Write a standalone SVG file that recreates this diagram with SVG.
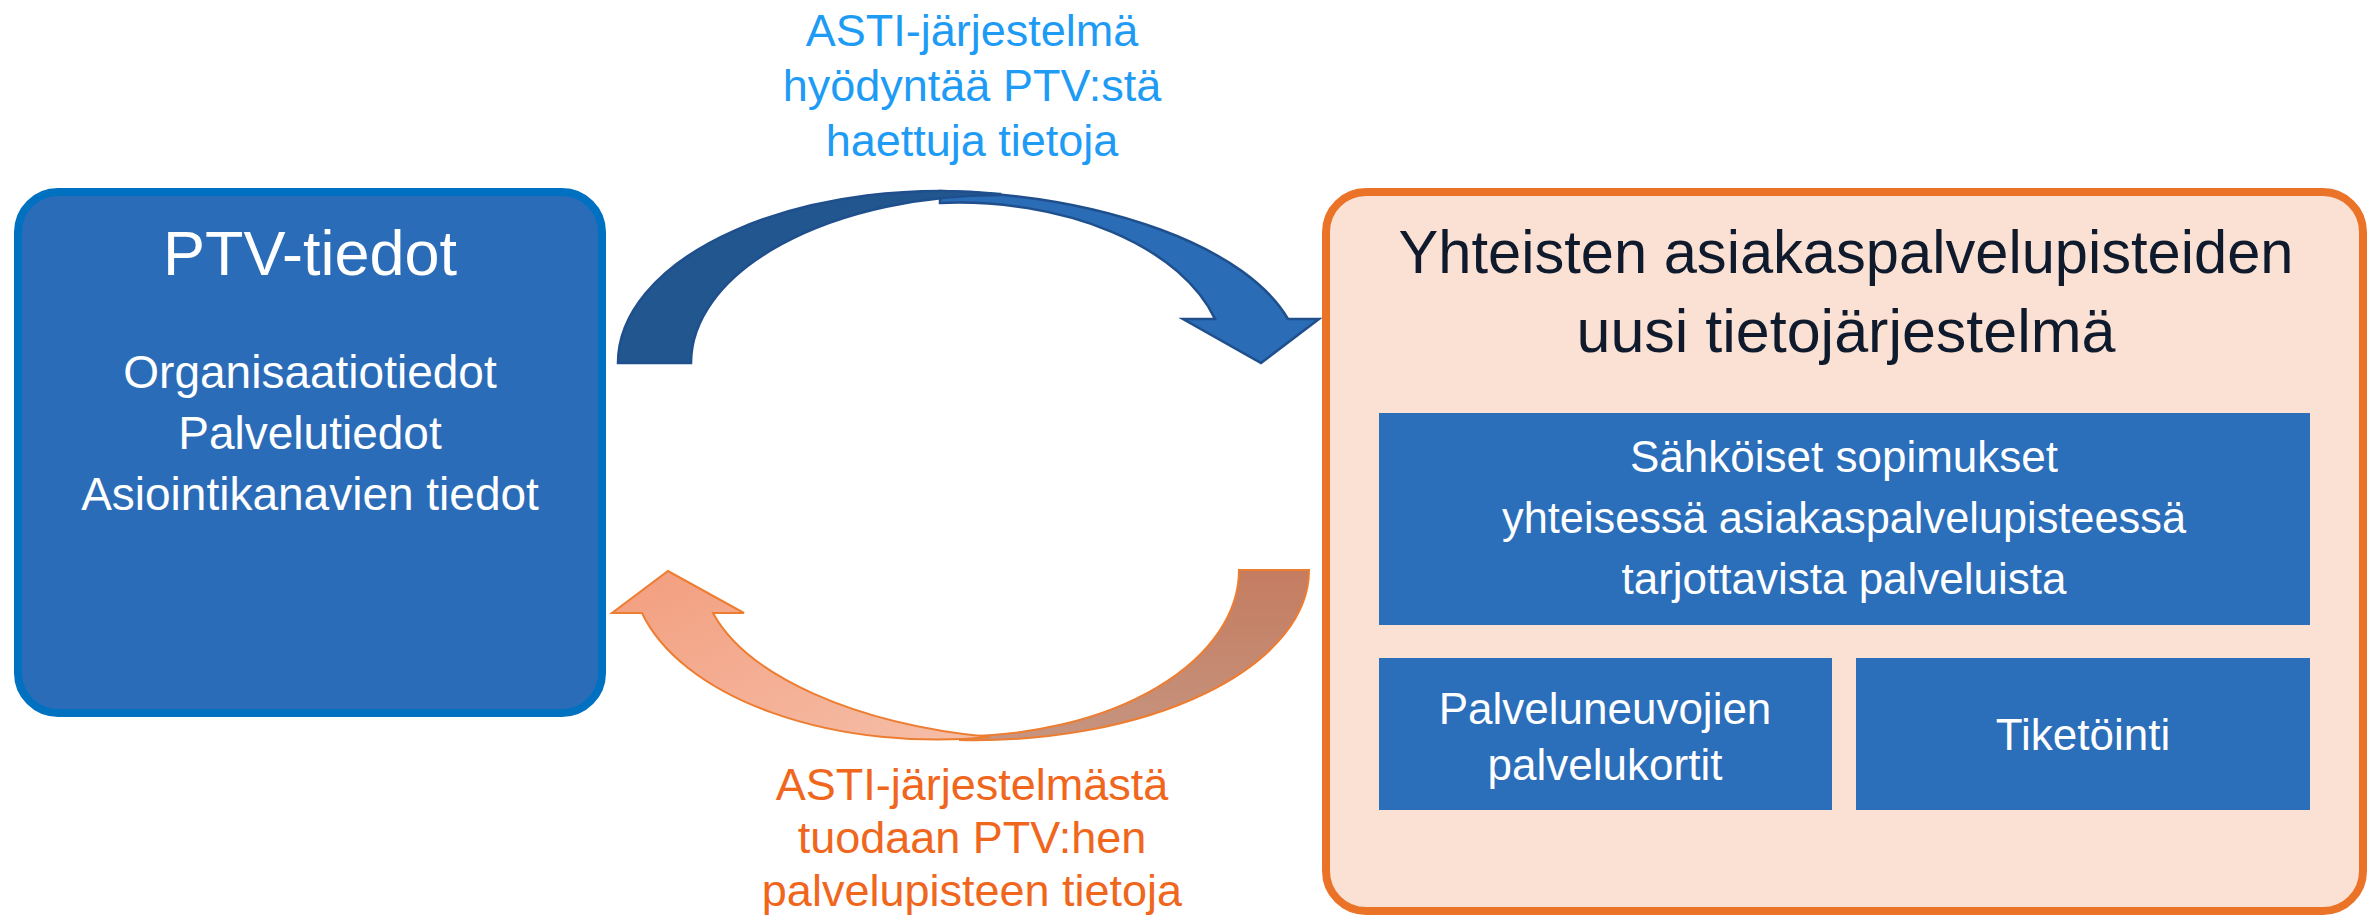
<svg xmlns="http://www.w3.org/2000/svg" width="2379" height="918" viewBox="0 0 2379 918">
  <defs>
    <style>
      .t { font-family: "Liberation Sans", Arial, sans-serif; text-anchor: middle; }
      .w { fill: #ffffff; }
      .inner { fill: #2B6EBA; }
      .lblTop { fill: #1E9BF5; font-size: 45px; }
      .lblBot { fill: #F0661C; font-size: 45px; }
      .arrowBlue { stroke: #1F4F8C; stroke-width: 2.5; stroke-linejoin: miter; }
      .arrowOrange { stroke: #ED7D31; stroke-width: 2; stroke-linejoin: miter; }
    </style>
    <linearGradient id="gHead" x1="0" y1="0" x2="1" y2="1">
      <stop offset="0" stop-color="#F39E7E"/>
      <stop offset="1" stop-color="#F5BEA8"/>
    </linearGradient>
    <linearGradient id="gTail" x1="0" y1="0" x2="0" y2="1">
      <stop offset="0" stop-color="#C47C60"/>
      <stop offset="1" stop-color="#C6947F"/>
    </linearGradient>
  </defs>

  <g id="connectors">
    <!-- top curved arrow: head (drawn first) -->
    <path class="arrowBlue" fill="#2A6CB6" d="M 940,191 A 382 172 0 0 1 1288,319 L 1319,319 L 1261,363 L 1183,319 L 1215,319 A 267 160 0 0 0 940,203 Z"/>
    <!-- top curved arrow: tail (dark) -->
    <path class="arrowBlue" fill="#22568F" d="M 618,363 A 322 172 0 0 1 1000,194 L 1000,195 A 309 168 0 0 0 691,363 Z"/>
    <!-- bottom curved arrow: tail (right) -->
    <path class="arrowOrange" fill="url(#gTail)" d="M 1309,570 A 334 170 0 0 1 960,740 L 960,736 A 279 166 0 0 0 1239,570 Z"/>
    <!-- bottom curved arrow: head (left) -->
    <path class="arrowOrange" fill="url(#gHead)" d="M 642,613 A 305 170 0 0 0 990,737 A 362 169 0 0 1 713,613 L 744,613 L 668,571 L 612,613 Z"/>
  </g>

  <g id="label-top">
    <text class="t lblTop" x="972" y="46">ASTI-järjestelmä</text>
    <text class="t lblTop" x="972" y="101">hyödyntää PTV:stä</text>
    <text class="t lblTop" x="972" y="156">haettuja tietoja</text>
  </g>

  <g id="label-bottom">
    <text class="t lblBot" x="972" y="800">ASTI-järjestelmästä</text>
    <text class="t lblBot" x="972" y="853">tuodaan PTV:hen</text>
    <text class="t lblBot" x="972" y="906">palvelupisteen tietoja</text>
  </g>

  <g id="node-ptv">
    <rect x="18" y="192" width="584" height="521" rx="40" ry="40" fill="#2B6CB8" stroke="#0070C0" stroke-width="8"/>
    <text class="t w" x="310" y="275" font-size="63">PTV-tiedot</text>
    <text class="t w" x="310" y="388" font-size="46">Organisaatiotiedot</text>
    <text class="t w" x="310" y="449" font-size="46">Palvelutiedot</text>
    <text class="t w" x="310" y="510" font-size="46">Asiointikanavien tiedot</text>
  </g>

  <g id="node-asti">
    <rect x="1326" y="192" width="1037" height="719" rx="40" ry="40" fill="#FBE1D4" stroke="#EB7328" stroke-width="8"/>
    <text class="t" x="1846" y="273" font-size="61" fill="#0F1B2D" textLength="895" lengthAdjust="spacingAndGlyphs">Yhteisten asiakaspalvelupisteiden</text>
    <text class="t" x="1846" y="352" font-size="61" fill="#0F1B2D">uusi tietojärjestelmä</text>
  </g>

  <g id="node-sopimukset">
    <rect class="inner" x="1379" y="413" width="931" height="212"/>
    <text class="t w" x="1844" y="472" font-size="44">Sähköiset sopimukset</text>
    <text class="t w" x="1844" y="533" font-size="44" textLength="684" lengthAdjust="spacingAndGlyphs">yhteisessä asiakaspalvelupisteessä</text>
    <text class="t w" x="1844" y="594" font-size="44">tarjottavista palveluista</text>
  </g>

  <g id="node-palvelukortit">
    <rect class="inner" x="1379" y="658" width="453" height="152"/>
    <text class="t w" x="1605" y="724" font-size="44">Palveluneuvojien</text>
    <text class="t w" x="1605" y="780" font-size="44">palvelukortit</text>
  </g>

  <g id="node-tiketointi">
    <rect class="inner" x="1856" y="658" width="454" height="152"/>
    <text class="t w" x="2083" y="750" font-size="44">Tiketöinti</text>
  </g>
</svg>
